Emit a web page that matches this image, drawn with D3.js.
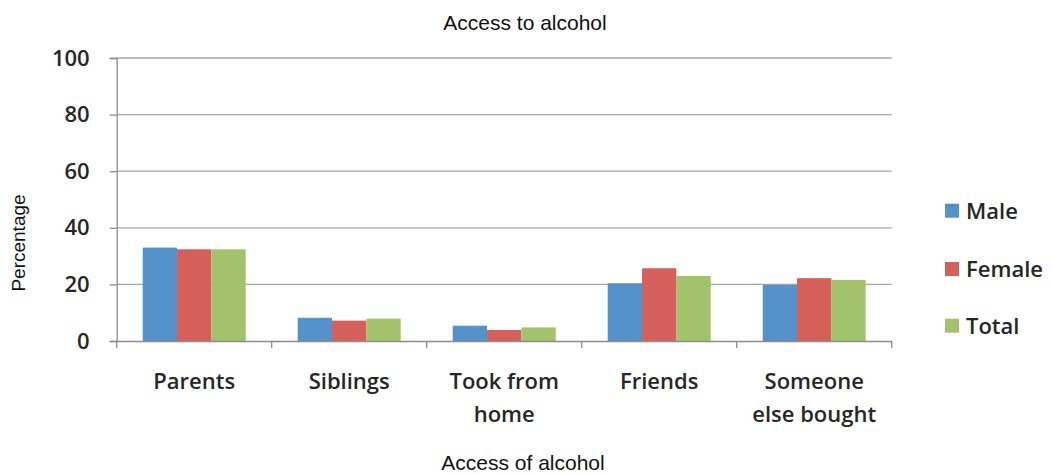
<!DOCTYPE html>
<html><head><meta charset="utf-8">
<script src="https://cdn.jsdelivr.net/npm/d3@7"></script>
<style>
html,body{margin:0;padding:0;background:#fff;}
svg{display:block;}
</style></head>
<body>
<svg id="c" width="1052" height="475"></svg>
<script>
const categories = [["Parents"],["Siblings"],["Took from","home"],["Friends"],["Someone","else bought"]];
const seriesNames = ["Male","Female","Total"];
const male = [33.0, 8.2, 5.4, 20.4, 19.8];
const female = [32.4, 7.2, 3.9, 25.7, 22.2];
const total = [32.4, 7.9, 4.8, 23.0, 21.6];
const yTicks = [0,20,40,60,80,100];
const colors = ["#5592cb","#d45f5b","#a2c36b"];

const values = [male, female, total];
const catKeys = categories.map(c => c.join(" "));
const svg = d3.select("#c");
const tickFont = "'Open Sans', Lato, sans-serif";
const tickWeight = "600";
const tickSize = 22;
const titleFont = "'Liberation Sans', Arial, sans-serif";

const x0 = d3.scaleBand().domain(catKeys).range([116.7, 891.7]).padding(0);
const bw = x0.bandwidth();
const x1 = d3.scaleBand().domain(seriesNames).range([26, bw - 26]).padding(0);
const y = d3.scaleLinear().domain([0,100]).range([341, 58]);

// gridlines
svg.append("g").selectAll("line").data(yTicks.filter(t=>t>0)).join("line")
  .attr("x1", 116.7).attr("x2", 891.7)
  .attr("y1", d=>y(d)).attr("y2", d=>y(d))
  .attr("stroke", "#a6a6a6").attr("stroke-width", 1.3);

// y axis
const yAxis = svg.append("g").attr("transform","translate(116.7,0)")
  .call(d3.axisLeft(y).tickValues(yTicks).tickSize(7).tickPadding(20));
yAxis.select(".domain").attr("stroke","#8c8c8c").attr("stroke-width",1.3);
yAxis.selectAll(".tick line").attr("stroke","#8c8c8c").attr("stroke-width",1.3);
yAxis.selectAll(".tick text").attr("font-family", tickFont).attr("font-weight",tickWeight)
  .attr("font-size", tickSize).attr("fill","#262626");

// bars
const groups = svg.append("g").selectAll("g").data(catKeys).join("g")
  .attr("transform", d => `translate(${x0(d)},0)`);
groups.selectAll("rect").data((d,i) => seriesNames.map((s,j)=>({s, v: values[j][i], j})))
  .join("rect")
  .attr("x", d => x1(d.s)).attr("width", x1.bandwidth())
  .attr("y", d => y(d.v)).attr("height", d => y(0) - y(d.v))
  .attr("fill", d => colors[d.j]);

// x axis
const xAxis = svg.append("g").attr("transform", `translate(0,${y(0)})`)
  .call(d3.axisBottom(x0).tickSize(0).tickFormat(""));
xAxis.select(".domain").attr("stroke","#8c8c8c").attr("stroke-width",1.3);
const bounds = catKeys.map(k => x0(k)).concat([x0.range()[1]]);
svg.append("g").selectAll("line").data(bounds).join("line")
  .attr("x1", d=>d).attr("x2", d=>d).attr("y1", y(0)).attr("y2", y(0)+7)
  .attr("stroke","#8c8c8c").attr("stroke-width",1.3);

// category labels
const lbl = svg.append("g").selectAll("text").data(categories).join("text")
  .attr("x", (d,i) => x0(catKeys[i]) + bw/2)
  .attr("y", 389)
  .attr("text-anchor","middle")
  .attr("font-family", tickFont).attr("font-weight",tickWeight)
  .attr("font-size", tickSize).attr("fill","#262626");
lbl.selectAll("tspan").data(d => d).join("tspan")
  .attr("x", function(){ return this.parentNode.getAttribute("x"); })
  .attr("dy", (d,i) => i === 0 ? 0 : 33)
  .text(d => d);

// titles
svg.append("text").attr("x", 525).attr("y", 30).attr("text-anchor","middle")
  .attr("font-family",titleFont).attr("font-size",21)
  .attr("fill","#111").text("Access to alcohol");
svg.append("text").attr("x", 523).attr("y", 470).attr("text-anchor","middle")
  .attr("font-family",titleFont).attr("font-size",21)
  .attr("fill","#111").text("Access of alcohol");
svg.append("text").attr("transform","translate(25,243) rotate(-90)").attr("text-anchor","middle")
  .attr("font-family",titleFont).attr("font-size",19)
  .attr("fill","#111").text("Percentage");

// legend
const legY = [210.7, 269, 325.7];
const leg = svg.append("g").selectAll("g").data(seriesNames).join("g")
  .attr("transform", (d,i) => `translate(945,${legY[i]})`);
leg.append("rect").attr("x",0).attr("y",-7).attr("width",14).attr("height",14)
  .attr("fill", (d,i) => colors[i]);
leg.append("text").attr("x", 21).attr("y", 8)
  .attr("font-family", tickFont).attr("font-weight",tickWeight)
  .attr("font-size", tickSize).attr("fill","#262626").text(d => d);
</script>
</body></html>
